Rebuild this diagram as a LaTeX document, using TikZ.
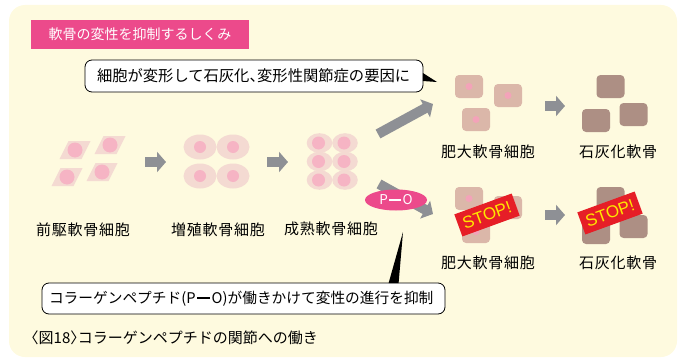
\documentclass[tikz,border=0pt]{standalone}
\usepackage{fontspec}
\setmainfont{Noto Sans CJK JP}
\newfontfamily\lblfont[LetterSpace=5]{Noto Sans CJK JP}
\newfontfamily\stopfont{Liberation Sans}
\usetikzlibrary{arrows.meta,calc,shapes.geometric}

\definecolor{panel}{HTML}{FEFADF}
\definecolor{brandpink}{HTML}{EC4A8B}
\definecolor{cellshell}{HTML}{F4DAD2}
\definecolor{cellcore}{HTML}{F6B4C4}
\definecolor{hyper}{HTML}{DBB7A9}
\definecolor{hyperdot}{HTML}{F3A3B9}
\definecolor{calcified}{HTML}{AD8F84}
\definecolor{flowgray}{HTML}{8E9095}
\definecolor{stopred}{HTML}{E61E27}
\definecolor{stopyellow}{HTML}{FFE600}

% bar between P and O
\newcommand\pobar{\kern0.1em\rule[0.3em]{0.9em}{0.12em}\kern0.1em}
% pull in the blank half of a full-width punctuation glyph
\newcommand\halfgap{\kern-0.5em}

\tikzset{
  flow/.style={draw=flowgray, line width=10pt,
    -{Triangle[length=9pt,width=20pt]}},
  titlebox/.style={fill=brandpink, text=white, inner sep=0pt,
    minimum width=218pt, minimum height=28.5pt,
    font=\fontsize{14}{14}\selectfont},
  callout/.style={draw=black, line width=0.8pt, fill=white,
    rounded corners=7pt, inner ysep=0pt, align=left},
  stagelabel/.style={inner sep=0pt, font=\lblfont\fontsize{15}{15}\selectfont},
  stopsign/.style={fill=stopred, text=stopyellow, inner sep=0pt,
    minimum width=61pt, minimum height=23.5pt,
    font=\stopfont\fontsize{17}{17}\selectfont},
  pobadge/.style={ellipse, fill=brandpink, text=white, inner sep=0pt,
    minimum width=62pt, minimum height=21pt,
    font=\fontsize{13.5}{13.5}\selectfont},
  precursor/.pic={
    \fill[cellshell] (-6.5,-9) -- (15.5,-9) -- (6.5,9) -- (-15.5,9) -- cycle;
    \fill[cellcore] (0,0) circle[radius=7.5];},
  dividing/.pic={
    \fill[cellshell] (0,0) ellipse[x radius=16.5, y radius=12.5];
    \fill[cellcore] (0,0) circle[radius=6];},
  mature/.pic={
    \fill[cellshell] (0,0) ellipse[x radius=12.8, y radius=9.8];
    \fill[cellcore] (-1,0) circle[radius=6.5];},
  swollen/.pic={
    \fill[hyper, rounded corners=4pt] (-14,-11.5) rectangle (14,11.5);
    \fill[hyperdot] (0,0) circle[radius=3.5];},
  hardened/.pic={
    \fill[calcified, rounded corners=4pt] (-14,-11.5) rectangle (14,11.5);},
}

\begin{document}
\begin{tikzpicture}[x=1pt,y=-1pt]
\useasboundingbox (0,0) rectangle (679,361);
\fill[panel, rounded corners=16pt] (9,5) rectangle (677,357);

% heading
\node[titlebox] (title) at (140,34.3) {軟骨の変性を抑制するしくみ};

% precursor chondrocytes
\pic at (75,150) {precursor};
\pic at (110,145) {precursor};
\pic at (67,177) {precursor};
\pic at (102,172) {precursor};
% proliferating chondrocytes
\pic at (200,147) {dividing};
\pic at (233,147) {dividing};
\pic at (200,176) {dividing};
\pic at (233,176) {dividing};
% mature chondrocytes
\foreach \r in {143,161.5,180}{
  \pic at (319.5,\r) {mature};
  \pic at (345,\r) {mature};
}
% hypertrophic chondrocytes, upper path
\pic at (469,86.5) {swollen};
\pic at (508,95.5) {swollen};
\pic at (476,119.5) {swollen};
% calcified cartilage, upper path
\pic at (610.5,86.5) {hardened};
\pic at (596,120.5) {hardened};
\pic at (633.5,114.5) {hardened};
% hypertrophic chondrocytes, lower path
\pic at (469,198.5) {swollen};
\pic at (508,207.5) {swollen};
\pic at (476,231.5) {swollen};
% calcified cartilage, lower path
\pic at (610.5,198.5) {hardened};
\pic at (596,232.5) {hardened};
\pic at (633.5,226.5) {hardened};

% stage labels
\node[stagelabel] (lprecursor) at (83,230) {前駆軟骨細胞};
\node[stagelabel] (lprolif) at (218,230) {増殖軟骨細胞};
\node[stagelabel] (lmature) at (331,229) {成熟軟骨細胞};
\node[stagelabel] (lhyperA) at (488,152) {肥大軟骨細胞};
\node[stagelabel] (lcalcA) at (618,152) {石灰化軟骨};
\node[stagelabel] (lhyperB) at (488,263) {肥大軟骨細胞};
\node[stagelabel] (lcalcB) at (618,263) {石灰化軟骨};

% flow arrow end points
\coordinate (f1a) at (145,162);  \coordinate (f1b) at (166,162);
\coordinate (f2a) at (267,162);  \coordinate (f2b) at (288,162);
\coordinate (f3a) at (545,106);  \coordinate (f3b) at (565,106);
\coordinate (f4a) at (545,215);  \coordinate (f4b) at (565,215);
\coordinate (upa) at (378,134);  \coordinate (upb) at (433,104);
\coordinate (dna) at (379,184);  \coordinate (dnb) at (433,214);

\draw[flow] (f1a) -- (f1b);
\draw[flow] (f2a) -- (f2b);
\draw[flow] (f3a) -- (f3b);
\draw[flow] (f4a) -- (f4b);
\draw[flow] (upa) -- (upb);
\draw[flow] (dna) -- (dnb);

% collagen peptide badge
\node[pobadge] (po) at (396,200) {P\pobar O};

% STOP signs
\node[stopsign, rotate=20] (stop1) at (487,215) {STOP!};
\node[stopsign, rotate=20] (stop2) at (610,213) {STOP!};

% upper speech balloon
\node[callout, inner xsep=12pt, text width=314pt, minimum height=32pt,
  font=\fontsize{15.3}{15.3}\selectfont]
  (note1) at (254,76) {細胞が変形して石灰化、\halfgap 変形性関節症の要因に};
\coordinate (tip1) at (437,82);
\fill[black] ($(note1.east)+(-0.5,-3)$) -- (tip1) -- ($(note1.east)+(-0.5,5)$) -- cycle;

% lower speech balloon
\node[callout, inner xsep=7pt, text width=389pt, minimum height=31pt,
  font=\fontsize{14.7}{14.7}\selectfont]
  (note2) at (243.5,298.5) {コラーゲンペプチド(P\pobar O)が働きかけて変性の進行を抑制};
\coordinate (tip2) at (403,232);
\fill[black] ($(note2.north west)+(347,0.5)$) -- (tip2) -- ($(note2.north west)+(357,0.5)$) -- cycle;

% caption
\node[anchor=west, inner sep=0pt, font=\fontsize{15}{15}\selectfont]
  (caption) at (31,338) {\halfgap〈図18〉\halfgap コラーゲンペプチドの関節への働き};
\end{tikzpicture}
\end{document}
